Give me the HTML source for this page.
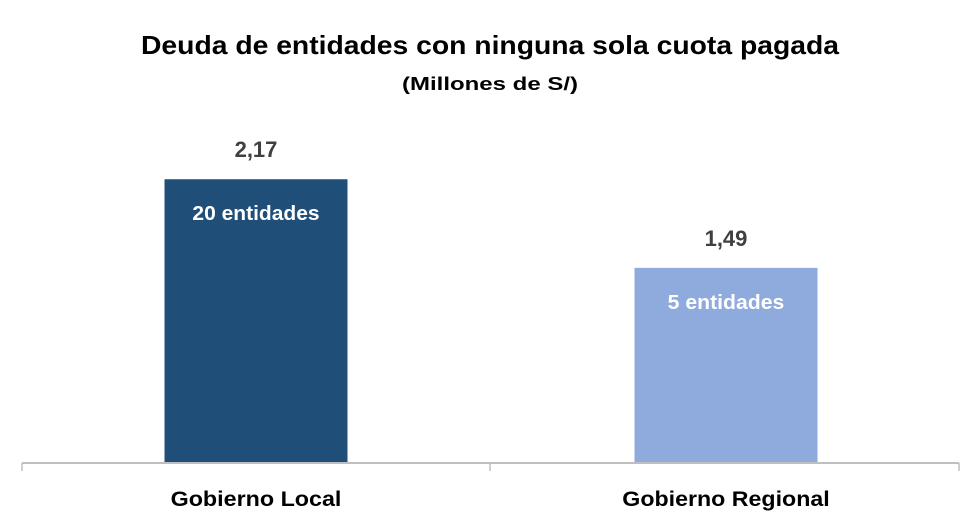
<!DOCTYPE html>
<html><head><meta charset="utf-8"><style>
html,body{margin:0;padding:0;background:#fff;}
svg{display:block;font-family:"Liberation Sans",sans-serif;}
</style></head><body>
<svg id="chart" width="980" height="531" viewBox="0 0 980 531">
<text x="490" y="54" text-anchor="middle" font-size="26" font-weight="bold" fill="#000" textLength="698" lengthAdjust="spacingAndGlyphs">Deuda de entidades con ninguna sola cuota pagada</text>
<text x="490" y="90" text-anchor="middle" font-size="18" font-weight="bold" fill="#000" textLength="176" lengthAdjust="spacingAndGlyphs">(Millones de S/)</text>
<g id="axis">
<line x1="22" y1="463" x2="959" y2="463" stroke="#bfbfbf" stroke-width="2"/>
<line x1="22" y1="463" x2="22" y2="471" stroke="#bfbfbf" stroke-width="1.5"/>
<line x1="490" y1="463" x2="490" y2="471" stroke="#bfbfbf" stroke-width="1.5"/>
<line x1="959" y1="463" x2="959" y2="471" stroke="#bfbfbf" stroke-width="1.5"/>
</g>
<g id="bars"></g>
</svg>
<script>
const categories=["Gobierno Local","Gobierno Regional"];
const values=[2.17,1.49];
const valueLabels=["2,17","1,49"];
const innerLabels=["20 entidades","5 entidades"];
const colors=["#1f4e79","#8faadc"];
const baseY=462, pxPerUnit=130.3;
const y=v=>baseY-v*pxPerUnit;
const xCenter=i=>256+i*470;
const barW=183;
const ns="http://www.w3.org/2000/svg";
const g=document.getElementById("bars");
function mk(tag,attrs,text){const e=document.createElementNS(ns,tag);for(const k in attrs)e.setAttribute(k,attrs[k]);if(text!==undefined)e.textContent=text;g.appendChild(e);return e;}
values.forEach((v,i)=>{
  const cx=xCenter(i), top=y(v);
  const r=mk("rect",{x:cx-barW/2,y:top,width:barW,height:baseY-top,fill:colors[i]});
  
  
  const vl=mk("text",{x:cx,y:top-22,"text-anchor":"middle","font-size":"22","font-weight":"bold",fill:"#404040"},valueLabels[i]);
  
  
  const il=mk("text",{x:cx,y:top+41,"text-anchor":"middle","font-size":"20","font-weight":"bold",fill:"#fff",textLength:String(innerLabels[i].length*10.6),lengthAdjust:"spacingAndGlyphs"},innerLabels[i]);
  
  
  const cl=mk("text",{x:cx,y:506,"text-anchor":"middle","font-size":"21","font-weight":"bold",fill:"#000",textLength:String(categories[i].length*12.2),lengthAdjust:"spacingAndGlyphs"},categories[i]);
  
  
});
</script>
</body></html>
